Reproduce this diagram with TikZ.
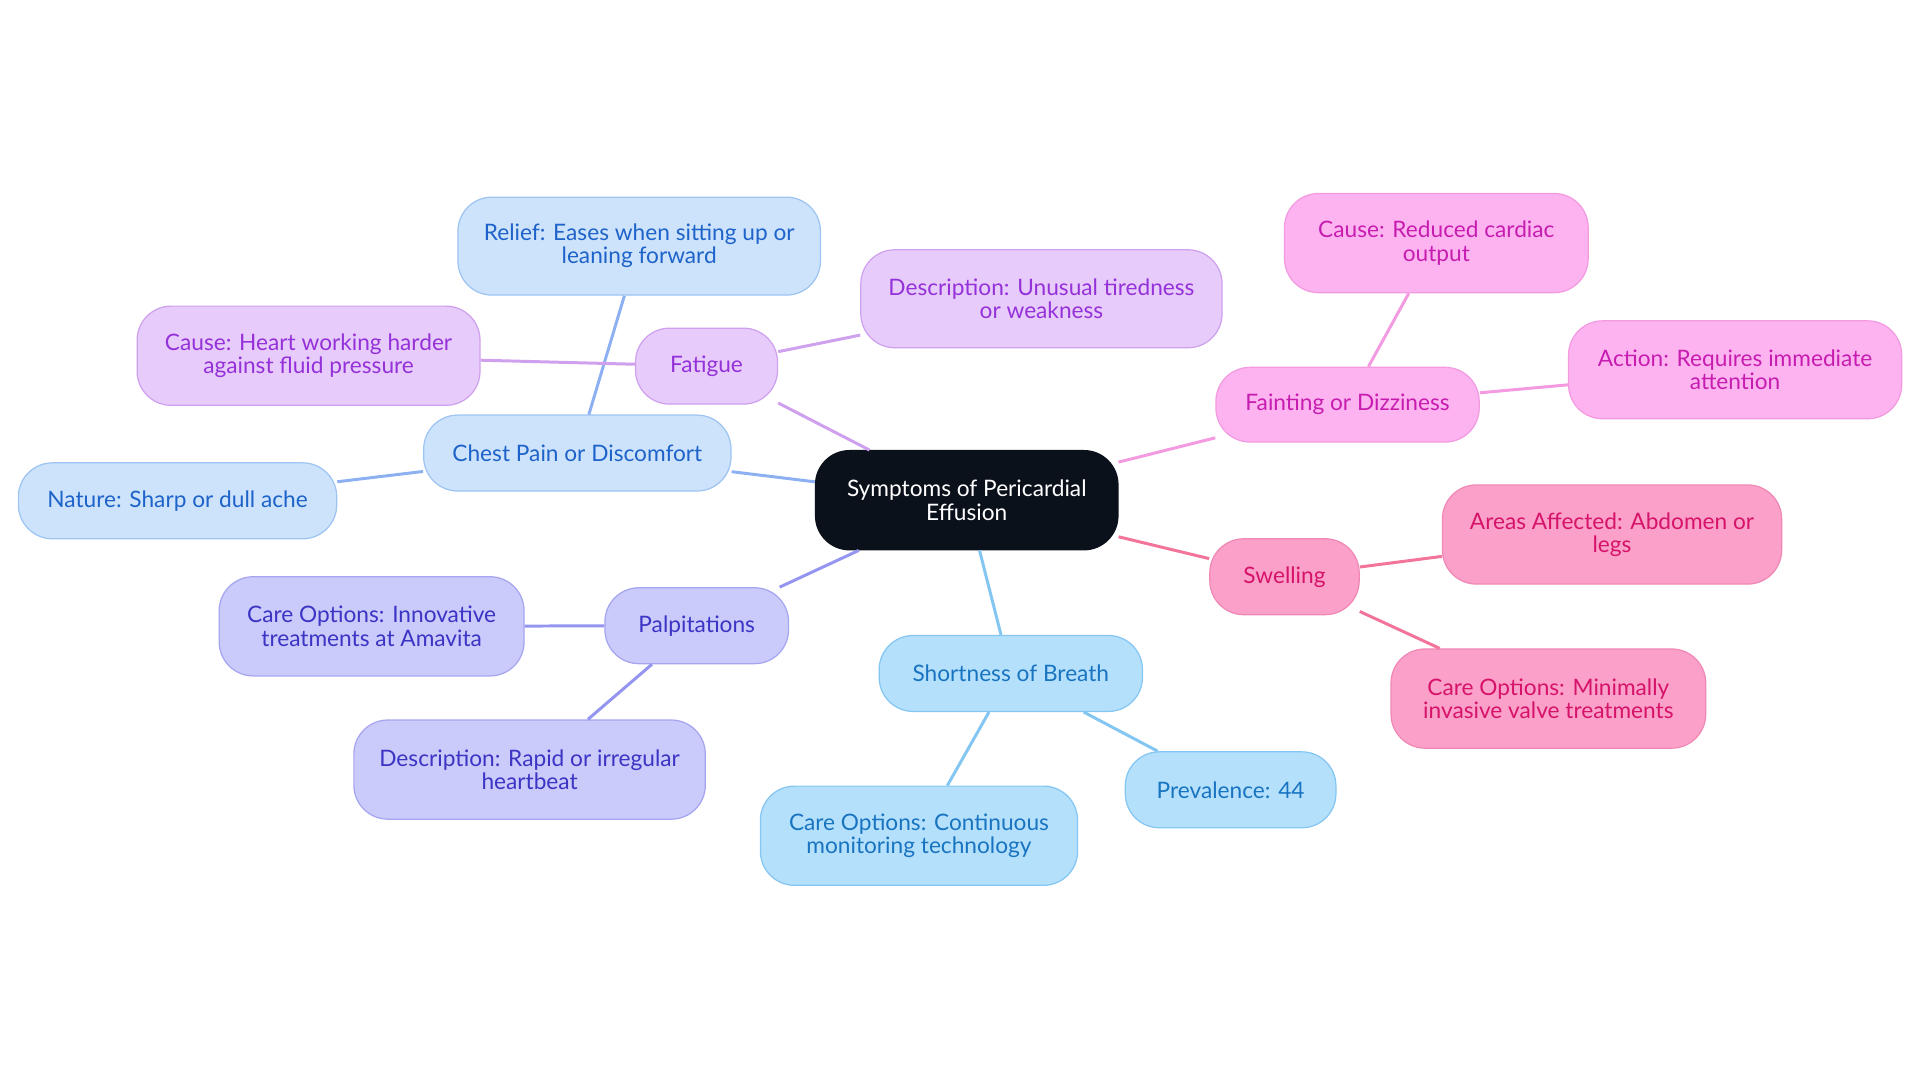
\documentclass[tikz,border=0pt]{standalone}
\usepackage{fontspec}
\setmainfont{Lato}
\usetikzlibrary{positioning}
\definecolor{rootfill}{HTML}{0B111B}
\definecolor{chfill}{HTML}{CDE3FB}\definecolor{chline}{HTML}{9DC4F2}\definecolor{chtext}{HTML}{1E63C9}
\definecolor{fafill}{HTML}{E7CCFB}\definecolor{faline}{HTML}{CFA0EE}\definecolor{fatext}{HTML}{9531D8}
\definecolor{fdfill}{HTML}{FDB3F0}\definecolor{fdline}{HTML}{F39AE0}\definecolor{fdtext}{HTML}{C61DB0}
\definecolor{swfill}{HTML}{FBA0C8}\definecolor{swline}{HTML}{F088B5}\definecolor{swtext}{HTML}{D6136A}
\definecolor{pafill}{HTML}{CACAFB}\definecolor{paline}{HTML}{A5A5F0}\definecolor{patext}{HTML}{3B34C4}
\definecolor{brfill}{HTML}{B5E0FC}\definecolor{brline}{HTML}{84C6F2}\definecolor{brtext}{HTML}{1874C1}
\tikzset{
  topic/.style={rounded corners=0.68cm, align=center, inner sep=0pt,
    font=\fontsize{12.9}{13.2}\selectfont, line width=0.7pt},
  chest/.style={topic, fill=chfill, draw=chline, text=chtext},
  fatig/.style={topic, fill=fafill, draw=faline, text=fatext},
  faint/.style={topic, fill=fdfill, draw=fdline, text=fdtext},
  swell/.style={topic, fill=swfill, draw=swline, text=swtext},
  palp/.style={topic, fill=pafill, draw=paline, text=patext},
  breath/.style={topic, fill=brfill, draw=brline, text=brtext},
  sz/.style 2 args={minimum width=#1*0.02449cm, minimum height=#2*0.02449cm},
  link/.style={line width=1.7pt}
}
\begin{document}
\begin{tikzpicture}[x=0.02449cm,y=-0.02449cm]
    \useasboundingbox (0,0) rectangle (1568,884.4);
    % Root
    \node[topic, fill=rootfill, draw=rootfill, text=white, sz={247}{81}] (root) at (789.5,408.5) {Symptoms of Pericardial\\Effusion};
    % Chest pain
    \node[chest, sz={251}{62}] (chest) at (471.5,370) {Chest Pain or Discomfort};
    \node[chest, sz={296}{80}] (relief) at (522,201) {Relief: Eases when sitting up or\\leaning forward};
    \node[chest, sz={260}{62}] (nature) at (145,409) {Nature: Sharp or dull ache};
    % Fatigue
    \node[fatig, sz={116}{62}] (fatigue) at (577,299) {Fatigue};
    \node[fatig, sz={295}{80}] (fatdesc) at (850.5,244) {Description: Unusual tiredness\\or weakness};
    \node[fatig, sz={280}{81}] (fatcause) at (252,290.5) {Cause: Heart working harder\\against fluid pressure};
    % Fainting
    \node[faint, sz={215}{61}] (fainting) at (1100.5,330.5) {Fainting or Dizziness};
    \node[faint, sz={248}{81}] (fdcause) at (1173,198.5) {Cause: Reduced cardiac\\output};
    \node[faint, sz={272}{80}] (action) at (1417,302) {Action: Requires immediate\\attention};
    % Swelling
    \node[swell, sz={122}{62}] (swelling) at (1049,471) {Swelling};
    \node[swell, sz={277}{81}] (areas) at (1316.5,436.5) {Areas Affected: Abdomen or\\legs};
    \node[swell, sz={257}{81}] (swcare) at (1264.5,570.5) {Care Options: Minimally\\invasive valve treatments};
    % Palpitations
    \node[palp, sz={150}{62}] (palpit) at (569,511) {Palpitations};
    \node[palp, sz={249}{81}] (pacare) at (303.5,511.5) {Care Options: Innovative\\treatments at Amavita};
    \node[palp, sz={287}{81}] (padesc) at (432.5,628.5) {Description: Rapid or irregular\\heartbeat};
    % Shortness of breath
    \node[breath, sz={215}{62}] (breath) at (825.5,550) {Shortness of Breath};
    \node[breath, sz={259}{81}] (brcare) at (750.5,682.5) {Care Options: Continuous\\monitoring technology};
    \node[breath, sz={172}{62}] (preval) at (1005,645) {Prevalence: 44};
    % Links
    \draw[link, chline!90!blue] (root) -- (chest) (chest) -- (relief) (chest) -- (nature);
    \draw[link, faline] (root) -- (fatigue) (fatigue) -- (fatdesc) (fatigue) -- (fatcause);
    \draw[link, fdline] (root) -- (fainting) (fainting) -- (fdcause) (fainting) -- (action);
    \draw[link, swline!85!red] (root) -- (swelling) (swelling) -- (areas) (swelling) -- (swcare);
    \draw[link, paline!90!blue] (root) -- (palpit) (palpit) -- (pacare) (palpit) -- (padesc);
    \draw[link, brline] (root) -- (breath) (breath) -- (brcare) (breath) -- (preval);
\end{tikzpicture}
\end{document}
